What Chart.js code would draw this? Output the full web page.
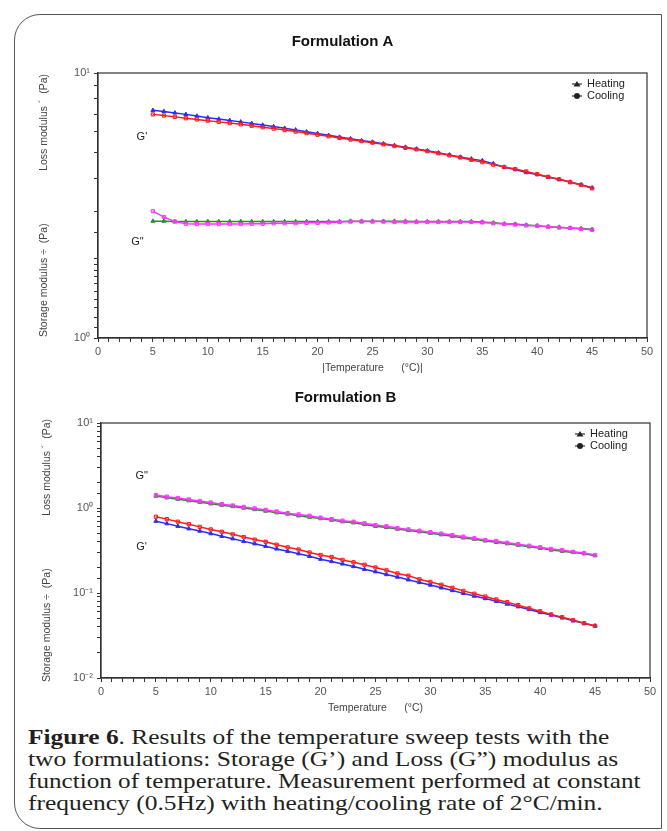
<!DOCTYPE html>
<html>
<head>
<meta charset="utf-8">
<script src="https://cdn.jsdelivr.net/npm/chart.js@4.4.1/dist/chart.umd.min.js"></script>
<style>
  html, body { margin: 0; padding: 0; background: #fff; }
  body { width: 667px; height: 831px; position: relative; overflow: hidden; }
  .moldura { position: absolute; left: 14px; top: 14px; width: 646px; height: 813px; border: 1.5px solid #555; border-radius: 26px 0 0 26px; }
  .caixa { position: absolute; left: 0; width: 667px; }
  #caixaA { top: 0; height: 378px; }
  #caixaB { top: 380px; height: 338px; }
  .legenda { position: absolute; left: 28px; top: 726px; font-family: 'Liberation Serif', serif; font-size: 21px; line-height: 22px; color: #231f20; }
  .linha { white-space: nowrap; width: max-content; transform-origin: 0 0; }
</style>
</head>
<body>
<div class="moldura"></div>
<div class="caixa" id="caixaA"><canvas id="graficoA"></canvas></div>
<div class="caixa" id="caixaB"><canvas id="graficoB"></canvas></div>
<div class="legenda">
  <div class="linha" data-w="581"><b>Figure 6</b>. Results of the temperature sweep tests with the</div>
  <div class="linha" data-w="590">two formulations: Storage (G’) and Loss (G”) modulus as</div>
  <div class="linha" data-w="612">function of temperature. Measurement performed at constant</div>
  <div class="linha" data-w="575">frequency (0.5Hz) with heating/cooling rate of 2°C/min.</div>
</div>
<script>
// temperatura (°C)
var temps = [5, 6, 7, 8, 9, 10, 11, 12, 13, 14, 15, 16, 17, 18, 19, 20, 21, 22, 23, 24, 25,
  26, 27, 28, 29, 30, 31, 32, 33, 34, 35, 36, 37, 38, 39, 40, 41, 42, 43, 44, 45];

// Formulation A (Pa)
var aAqG1 = [7.23, 7.16, 7.07, 6.98, 6.88, 6.78, 6.70, 6.62, 6.54, 6.45, 6.36, 6.28, 6.19, 6.10, 6.00, 5.91, 5.82, 5.73, 5.65, 5.56, 5.49,
  5.41, 5.33, 5.25, 5.17, 5.09, 5.00, 4.91, 4.82, 4.74, 4.67, 4.55, 4.41, 4.32, 4.21, 4.14, 4.04, 3.97, 3.88, 3.79, 3.69];
var aResG1 = [6.98, 6.91, 6.83, 6.75, 6.68, 6.61, 6.54, 6.47, 6.40, 6.32, 6.24, 6.17, 6.09, 6.01, 5.93, 5.85, 5.77, 5.69, 5.61, 5.53, 5.46,
  5.38, 5.30, 5.22, 5.15, 5.07, 4.98, 4.89, 4.80, 4.70, 4.61, 4.51, 4.42, 4.34, 4.25, 4.15, 4.06, 3.97, 3.87, 3.78, 3.67];
var aAqG2 = [2.76, 2.76, 2.75, 2.75, 2.75, 2.75, 2.75, 2.75, 2.75, 2.75, 2.75, 2.75, 2.75, 2.75, 2.75, 2.75, 2.75, 2.75, 2.76, 2.76, 2.76,
  2.76, 2.76, 2.76, 2.75, 2.75, 2.75, 2.75, 2.75, 2.75, 2.74, 2.72, 2.70, 2.69, 2.67, 2.65, 2.63, 2.62, 2.60, 2.59, 2.57];
var aResG2 = [3.01, 2.86, 2.75, 2.70, 2.69, 2.69, 2.69, 2.69, 2.69, 2.70, 2.70, 2.71, 2.71, 2.71, 2.72, 2.72, 2.73, 2.74, 2.75, 2.75, 2.75,
  2.75, 2.74, 2.74, 2.74, 2.74, 2.74, 2.74, 2.74, 2.74, 2.73, 2.71, 2.69, 2.68, 2.66, 2.65, 2.63, 2.61, 2.60, 2.58, 2.56];

// Formulation B (Pa)
var bAqG1 = [0.70, 0.655, 0.61, 0.57, 0.535, 0.50, 0.465, 0.435, 0.405, 0.38, 0.355, 0.33, 0.31, 0.29, 0.27, 0.25, 0.235, 0.22, 0.205, 0.19, 0.178,
  0.165, 0.154, 0.143, 0.133, 0.124, 0.115, 0.107, 0.099, 0.092, 0.086, 0.080, 0.074, 0.069, 0.064, 0.059, 0.055, 0.051, 0.047, 0.044, 0.041];
var bResG1 = [0.79, 0.74, 0.69, 0.645, 0.60, 0.56, 0.525, 0.49, 0.455, 0.425, 0.40, 0.37, 0.345, 0.325, 0.30, 0.28, 0.265, 0.245, 0.23, 0.215, 0.20,
  0.185, 0.17, 0.16, 0.145, 0.135, 0.125, 0.115, 0.106, 0.098, 0.091, 0.084, 0.078, 0.072, 0.066, 0.061, 0.056, 0.052, 0.048, 0.044, 0.041];
var bAqG2 = [1.38, 1.32, 1.27, 1.22, 1.17, 1.12, 1.08, 1.04, 1.00, 0.96, 0.92, 0.88, 0.85, 0.81, 0.78, 0.75, 0.72, 0.69, 0.67, 0.64, 0.61,
  0.59, 0.565, 0.545, 0.525, 0.505, 0.485, 0.465, 0.445, 0.43, 0.41, 0.395, 0.38, 0.365, 0.35, 0.335, 0.32, 0.31, 0.30, 0.29, 0.275];
var bResG2 = [1.42, 1.36, 1.31, 1.26, 1.21, 1.16, 1.11, 1.07, 1.03, 0.99, 0.95, 0.91, 0.87, 0.84, 0.81, 0.77, 0.74, 0.71, 0.69, 0.66, 0.63,
  0.61, 0.58, 0.56, 0.54, 0.52, 0.50, 0.48, 0.46, 0.44, 0.42, 0.41, 0.39, 0.375, 0.36, 0.345, 0.33, 0.32, 0.305, 0.295, 0.28];

var legendas = ['Heating', 'Cooling'];
var expoentes = { '-2': '⁻²', '-1': '⁻¹', '0': '⁰', '1': '¹' };

Chart.defaults.font.family = '"Liberation Sans", Arial, sans-serif';
Chart.defaults.color = '#444';

function pontos(vals) {
    return temps.map((t, i) => ({ x: t, y: vals[i] }));
}

// moldura do grafico, legenda e rotulos G' / G''
var extras = {
    id: 'extras',
    afterDatasetsDraw(chart, args, o) {
        var c = chart.ctx, a = chart.chartArea;
        c.save();
        c.strokeStyle = '#333';
        c.lineWidth = 1.2;
        c.strokeRect(a.left, a.top, a.right - a.left, a.bottom - a.top);

        c.fillStyle = '#222';
        c.font = '11px "Liberation Sans"';
        c.textBaseline = 'middle';
        legendas.forEach((txt, i) => {
            var y = a.top + 11 + i * 12;
            var x = a.right - 60;
            c.beginPath();
            c.moveTo(x - 15, y); c.lineTo(x - 5, y);
            c.stroke();
            c.beginPath();
            if (i == 0) {
                c.moveTo(x - 10, y - 3); c.lineTo(x - 13.5, y + 2.5); c.lineTo(x - 6.5, y + 2.5); c.closePath();
            } else {
                c.arc(x - 10, y, 3, 0, Math.PI * 2);
            }
            c.fill();
            c.fillText(txt, x, y);
        });

        c.textAlign = 'center';
        o.rotulos.forEach(r => {
            c.fillText(r.texto, chart.scales.x.getPixelForValue(r.x), chart.scales.y.getPixelForValue(r.y));
        });
        c.restore();
    }
};

function serie(label, vals, cor, fundo, estilo) {
    return {
        label: label,
        data: pontos(vals),
        borderColor: cor,
        backgroundColor: fundo,
        borderWidth: 1.5,
        pointStyle: estilo,
        pointRadius: 2.3,
        pointBorderWidth: 1,
        tension: 0
    };
}

window.grafico = function (ctx, cfg) {
    new Chart(ctx, {
        type: 'line',
        data: {
            datasets: [
                serie('Cooling G\'', cfg.resG1, '#ff1a1a', 'rgba(255,60,60,0.35)', 'rect'),
                serie('Cooling G"', cfg.resG2, '#ff33ff', 'rgba(255,80,255,0.35)', 'rect'),
                serie('Heating G\'', cfg.aqG1, '#2b2bff', '#2b2bff', 'triangle'),
                serie('Heating G"', cfg.aqG2, '#2e8b2e', '#2e8b2e', 'triangle')
            ]
        },
        options: {
            responsive: true,
            maintainAspectRatio: false,
            animation: false,
            layout: { padding: cfg.padding },
            plugins: {
                legend: { display: false },
                tooltip: { enabled: false },
                title: {
                    display: true,
                    text: cfg.titulo,
                    color: '#111',
                    font: { size: 15, weight: 'bold' },
                    padding: cfg.tituloPad
                },
                extras: { rotulos: cfg.rotulos }
            },
            scales: {
                x: {
                    type: 'linear',
                    min: 0,
                    max: 50,
                    afterFit: s => { s.height = 40; },
                    border: { display: true, color: '#333', width: 1.2 },
                    grid: { drawOnChartArea: false, drawTicks: true, tickLength: 4, color: '#333' },
                    ticks: {
                        stepSize: 1,
                        autoSkip: false,
                        maxRotation: 0,
                        padding: 3,
                        font: { size: 11 },
                        color: '#555',
                        callback: v => (v % 5 == 0 ? String(v) : '')
                    },
                    title: { display: true, text: cfg.tituloX, font: { size: 10.5 }, color: '#444', padding: { top: 2, bottom: 4 } }
                },
                y: {
                    type: 'logarithmic',
                    min: cfg.yMin,
                    max: cfg.yMax,
                    afterFit: s => { s.width = 60; },
                    border: { display: true, color: '#333', width: 1.2 },
                    grid: { drawOnChartArea: false, drawTicks: true, tickLength: 4, color: '#333' },
                    ticks: {
                        autoSkip: false,
                        padding: 4,
                        font: { size: 11 },
                        color: '#555',
                        callback: function (v) {
                            var e = Math.round(Math.log10(v));
                            if (Math.abs(v - Math.pow(10, e)) > 1e-9 * Math.pow(10, e)) return '';
                            return '10' + expoentes[String(e)];
                        }
                    },
                    title: {
                        display: true,
                        text: 'Storage modulus ÷  (Pa)                  Loss modulus ´  (Pa)',
                        font: { size: 10.5 },
                        color: '#444',
                        padding: 0
                    }
                }
            }
        },
        plugins: [extras]
    });
}

grafico(document.getElementById('graficoA'), {
    titulo: 'Formulation A',
    tituloX: '|Temperature      (°C)|',
    aqG1: aAqG1, resG1: aResG1, aqG2: aAqG2, resG2: aResG2,
    yMin: 1, yMax: 10,
    padding: { top: 25, left: 38, right: 20, bottom: 0 },
    tituloPad: { top: 8, bottom: 22 },
    rotulos: [{ texto: 'G\'', x: 4.0, y: 5.74 }, { texto: 'G"', x: 3.6, y: 2.3 }]
});

grafico(document.getElementById('graficoB'), {
    titulo: 'Formulation B',
    tituloX: 'Temperature      (°C)',
    aqG1: bAqG1, resG1: bResG1, aqG2: bAqG2, resG2: bResG2,
    yMin: 0.01, yMax: 10,
    padding: { top: 0, left: 41, right: 17, bottom: 0 },
    tituloPad: { top: 9, bottom: 16 },
    rotulos: [{ texto: 'G"', x: 3.7, y: 2.38 }, { texto: 'G\'', x: 3.7, y: 0.348 }]
});

// legenda da figura: cada linha esticada na largura do original
document.querySelectorAll('.linha').forEach(l => {
    l.style.transform = 'scaleX(' + (l.dataset.w / l.offsetWidth) + ')';
});
</script>
</body>
</html>
